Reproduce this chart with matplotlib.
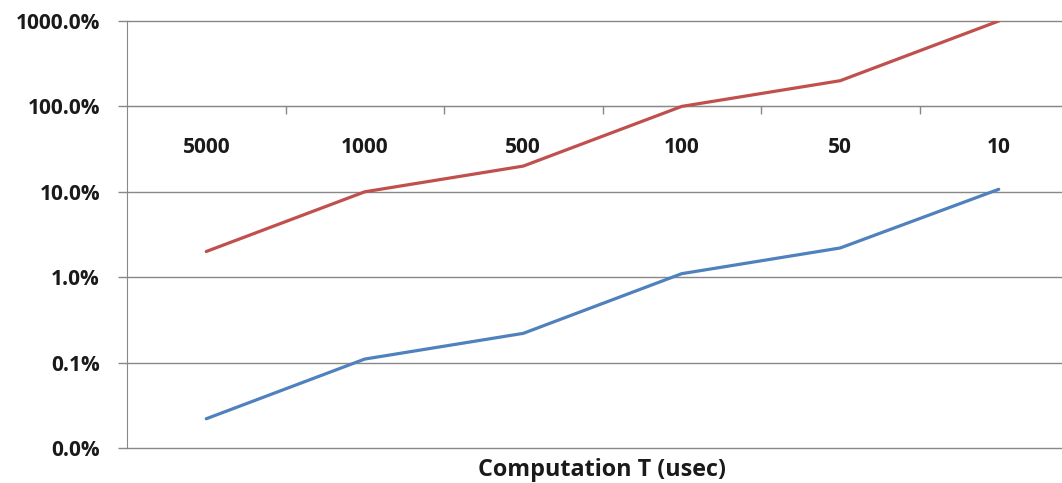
import matplotlib
matplotlib.use("Agg")
import matplotlib.pyplot as plt

categories = ["5000", "1000", "500", "100", "50", "10"]
red_series = [2.0, 10.0, 20.0, 100.0, 200.0, 1000.0]      # percent
blue_series = [0.022, 0.11, 0.22, 1.1, 2.2, 10.7]          # percent
y_ticks = [0.01, 0.1, 1.0, 10.0, 100.0, 1000.0]
y_tick_labels = ["0.0%", "0.1%", "1.0%", "10.0%", "100.0%", "1000.0%"]
x_title = "Computation T (usec)"

W, H, DPI = 1062, 483, 100
fig = plt.figure(figsize=(W / DPI, H / DPI), dpi=DPI)
fig.patch.set_facecolor("white")

left_px, right_px, top_px, bottom_px = 127, 1078, 21, 448
ax = fig.add_axes([left_px / W, (H - bottom_px) / H,
                   (right_px - left_px) / W, (bottom_px - top_px) / H])

font = "Open Sans"
grid_col = "#888888"
txt_col = "#1a1a1a"

ax.set_yscale("log")
for s in ["top", "right"]:
    ax.spines[s].set_visible(False)
ax.spines["left"].set_color(grid_col)
ax.spines["bottom"].set_color(grid_col)
ax.spines["bottom"].set_position(("data", 100.0))

x = list(range(len(categories)))
ax.plot(x, blue_series, color="#4F81BD", lw=2.3, solid_capstyle="round", zorder=3)
ax.plot(x, red_series, color="#C0504D", lw=2.3, solid_capstyle="round", zorder=3)

ax.set_ylim(0.01, 1000)
ax.set_xlim(-0.5, len(categories) - 0.5)
ax.set_yticks(y_ticks)
ax.set_yticklabels(y_tick_labels)
ax.yaxis.set_minor_locator(matplotlib.ticker.NullLocator())
for yv in y_ticks:
    ax.axhline(yv, color=grid_col, lw=1.0, zorder=1, clip_on=False)

ax.set_xticks(x)
ax.set_xticklabels(categories)
ax.set_xticks([i + 0.5 for i in x[:-1]], minor=True)
ax.tick_params(axis="x", which="major", length=0, pad=22)
ax.tick_params(axis="x", which="minor", length=6, width=1, color=grid_col, direction="out")
ax.tick_params(axis="y", which="major", length=6.5, width=1, color=grid_col, pad=13)

for lab in ax.get_xticklabels() + ax.get_yticklabels():
    lab.set_fontfamily(font)
    lab.set_fontweight("bold")
    lab.set_fontsize(15)
    lab.set_color(txt_col)

fig.text((left_px + right_px) / 2 / W, 1 - 470 / H, x_title, ha="center", va="center",
         fontfamily=font, fontweight="bold", fontsize=16.8, color=txt_col)

fig.savefig("out.png", dpi=DPI)
